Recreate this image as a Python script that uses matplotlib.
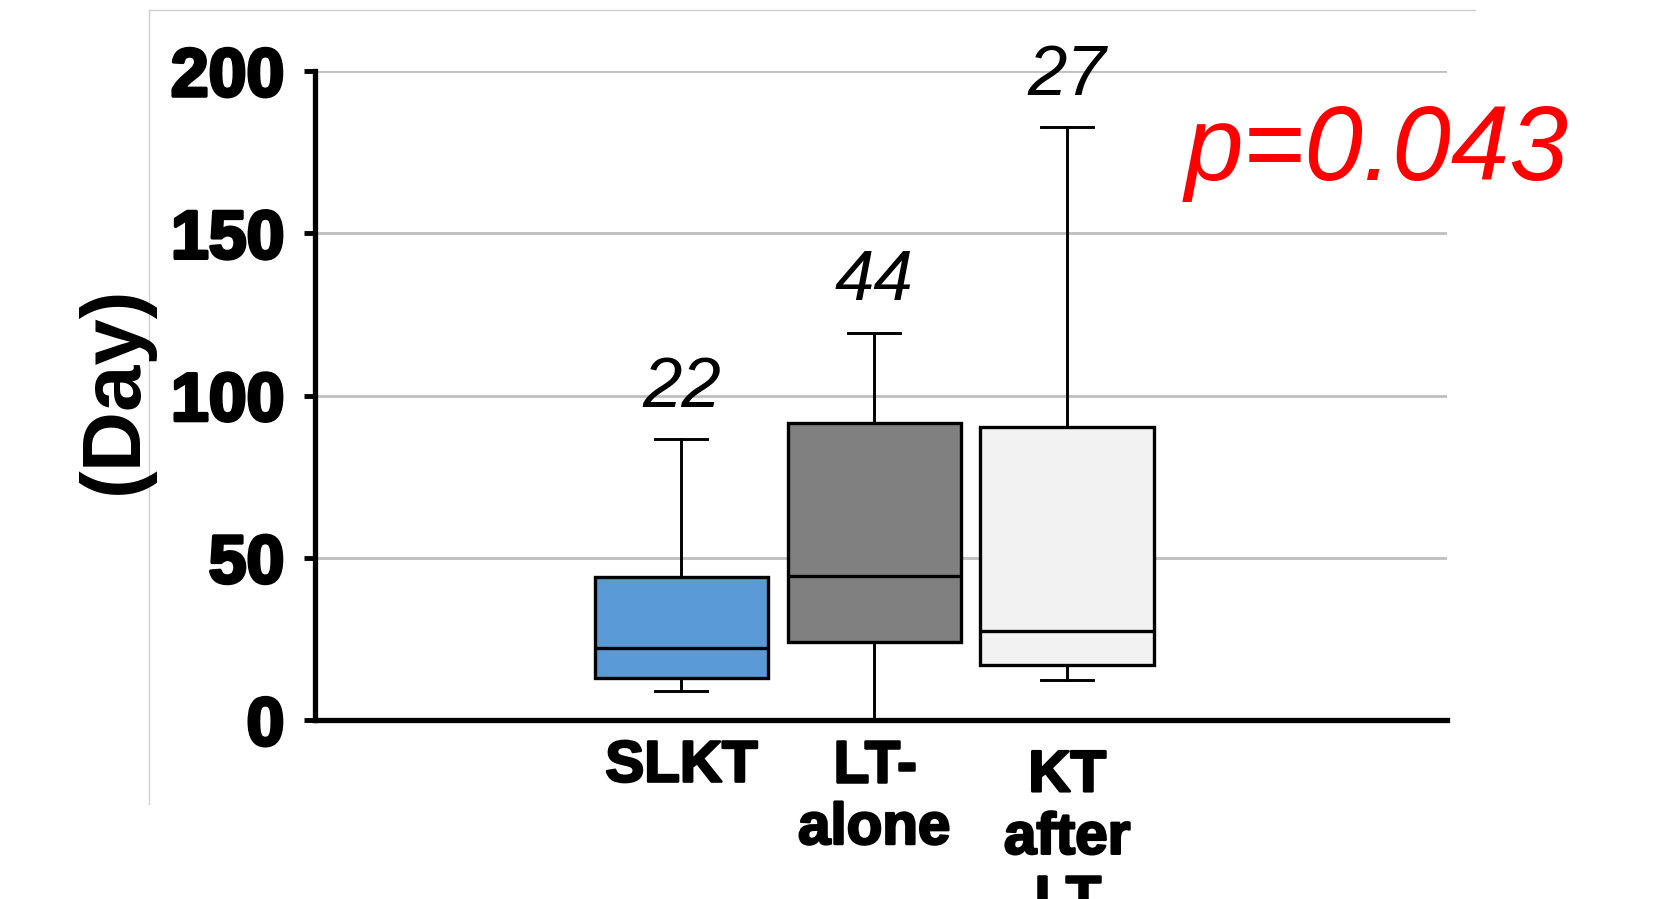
import matplotlib
matplotlib.use("Agg")
import matplotlib.pyplot as plt
import matplotlib.patheffects as pe
from matplotlib.lines import Line2D
from matplotlib.transforms import blended_transform_factory

# ---- data --------------------------------------------------------------
groups = ["SLKT", "LT-\nalone", "KT\nafter\nLT"]
whis_lo = [9.0, 0.0, 12.5]
q1 = [13.0, 24.0, 17.0]
median = [22.2, 44.4, 27.4]
q3 = [44.0, 91.6, 90.4]
whis_hi = [86.6, 119.3, 182.6]
box_colors = ["#5B9BD5", "#808080", "#F2F2F2"]
p_text = "p=0.043"
yticks = [0, 50, 100, 150, 200]

plt.rcParams["font.family"] = ["Liberation Sans", "DejaVu Sans"]

fig = plt.figure(figsize=(16.7, 8.99), dpi=100)
ax = fig.add_axes([0.1886, 0.199, 0.678, 0.722])

stats = [dict(med=m, q1=a, q3=b, whislo=lo, whishi=hi, fliers=[])
         for m, a, b, lo, hi in zip(median, q1, q3, whis_lo, whis_hi)]
pos = list(range(1, len(groups) + 1))
bp = ax.bxp(stats, positions=pos, widths=0.9, patch_artist=True,
            showfliers=False,
            boxprops=dict(linewidth=2.4, edgecolor="black"),
            medianprops=dict(color="black", linewidth=2.4),
            whiskerprops=dict(color="black", linewidth=2.1),
            capprops=dict(color="black", linewidth=2.1),
            capwidths=0.27, zorder=3)
for patch, c in zip(bp["boxes"], box_colors):
    patch.set_facecolor(c)

# median value labels above the whiskers
for x, hi, m in zip(pos, whis_hi, median):
    ax.text(x, hi + 10, f"{m:.0f}", ha="center", va="baseline",
            fontsize=51, style="italic", color="black", zorder=5)

ax.set_xlim(-0.9, 4.97)
ax.set_ylim(0, 200)
ax.set_yticks(yticks)
ax.set_yticklabels([str(t) for t in yticks], fontsize=49, fontweight="bold")
for lab in ax.get_yticklabels():
    lab.set_path_effects([pe.withStroke(linewidth=2.5, foreground="black")])
ax.tick_params(axis="y", direction="out", length=8, width=3.5, pad=14)
ax.set_xticks([])
ax.yaxis.grid(True, color="#bfbfbf", linewidth=2.0, zorder=0)
ax.set_axisbelow(True)
for s in ["top", "right"]:
    ax.spines[s].set_visible(False)
for s in ["left", "bottom"]:
    ax.spines[s].set_linewidth(3.8)
    ax.spines[s].set_zorder(4)

# category labels below the axis (the last one runs off the bottom, as in the original)
tr = blended_transform_factory(ax.transData, ax.transAxes)
lab_y = [-0.03, -0.03, -0.045]
for x, g, y in zip(pos, groups, lab_y):
    ax.text(x, y, g, transform=tr, ha="center", va="top", fontsize=42,
            fontweight="bold", linespacing=1.2, clip_on=False,
            path_effects=[pe.withStroke(linewidth=1.8, foreground="black")])

fig.text(0.069, 0.566, "(Day)", rotation=90, ha="center", va="center",
         fontsize=60, fontweight="bold")
fig.text(0.8245, 0.80, p_text, color="red", fontsize=76, style="italic",
         ha="center", va="baseline")

# faint outer chart-area frame
fig.add_artist(Line2D([0.0892, 0.8832], [0.989, 0.989], color="#d0d0d0",
                      linewidth=1.0, transform=fig.transFigure))
fig.add_artist(Line2D([0.0892, 0.0892], [0.989, 0.106], color="#d0d0d0",
                      linewidth=1.0, transform=fig.transFigure))

fig.savefig("out.png", dpi=100)
